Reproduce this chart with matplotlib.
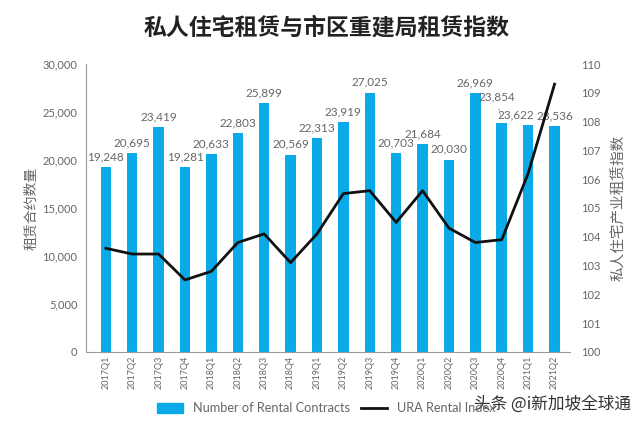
import matplotlib.pyplot as plt
from matplotlib.patches import Patch
from matplotlib.lines import Line2D

plt.rcParams['font.family'] = ['Lato', 'Noto Sans CJK SC', 'DejaVu Sans']

quarters = ['2017Q1', '2017Q2', '2017Q3', '2017Q4', '2018Q1', '2018Q2', '2018Q3', '2018Q4',
            '2019Q1', '2019Q2', '2019Q3', '2019Q4', '2020Q1', '2020Q2', '2020Q3', '2020Q4',
            '2021Q1', '2021Q2']
contracts = [19248, 20695, 23419, 19281, 20633, 22803, 25899, 20569,
             22313, 23919, 27025, 20703, 21684, 20030, 26969, 23854,
             23622, 23536]
ura_index = [103.6, 103.4, 103.4, 102.5, 102.8, 103.8, 104.1, 103.1,
             104.1, 105.5, 105.6, 104.5, 105.6, 104.3, 103.8, 103.9,
             106.2, 109.3]

bar_color = '#0AAAE8'
gray = '#666666'
cjk = ['Noto Sans CJK SC', 'DejaVu Sans']

fig = plt.figure(figsize=(6.4, 4.24), dpi=100)
ax = fig.add_axes([0.134, 0.170, 0.756, 0.679])
x = list(range(len(quarters)))
ax.bar(x, contracts, width=0.4, color=bar_color, zorder=2)
ax.set_ylim(0, 30000)
ax.set_xlim(-0.76, len(quarters) - 0.43)
ax.set_yticks(range(0, 30001, 5000))
ax.set_yticklabels([f'{v:,}' for v in range(0, 30001, 5000)])
ax.set_xticks(x)
ax.set_xticklabels(quarters, rotation=90)
ax.tick_params(axis='y', length=0, labelsize=8, colors=gray, pad=6)
ax.tick_params(axis='x', length=0, labelsize=6.5, colors=gray, pad=3)
for s in ['top', 'right']:
    ax.spines[s].set_visible(False)
for s in ['left', 'bottom']:
    ax.spines[s].set_color('#999999')
    ax.spines[s].set_linewidth(0.8)
ax.set_ylabel('租赁合约数量', family=cjk, fontsize=10, color=gray, labelpad=3)

for i, v in enumerate(contracts):
    if i == 15:
        ax.annotate(f'{v:,}', xy=(i, v + 200), xytext=(i - 0.2, v + 2100),
                    ha='center', va='bottom', fontsize=8.5, color=gray,
                    arrowprops=dict(arrowstyle='-', color='#aaaaaa', lw=0.6))
    elif i == 16:
        ax.text(i - 0.45, v + 500, f'{v:,}', ha='center', va='bottom', fontsize=8.5, color=gray, zorder=1)
    else:
        ax.text(i, v + 500, f'{v:,}', ha='center', va='bottom', fontsize=8.5, color=gray, zorder=1)

ax2 = ax.twinx()
ax2.plot(x, ura_index, color='#111111', lw=2, zorder=3)
ax2.set_ylim(100, 110)
ax2.set_yticks(range(100, 111))
ax2.tick_params(axis='y', length=0, labelsize=8, colors=gray, pad=8)
for s in ax2.spines.values():
    s.set_visible(False)
ax2.set_ylabel('私人住宅产业租赁指数', family=cjk, fontsize=10.5, color=gray, labelpad=8)

fig.suptitle('私人住宅租赁与市区重建局租赁指数', family=cjk, fontsize=16.5,
             fontweight='bold', color='#222222', x=0.51, y=0.96)

handles = [Patch(color=bar_color), Line2D([0], [0], color='#111111', lw=2)]
fig.legend(handles, ['Number of Rental Contracts', 'URA Rental Index'],
           loc='center', bbox_to_anchor=(0.51, 0.037), ncol=2, frameon=False,
           fontsize=9.2, labelcolor=gray, handlelength=2.0, handleheight=0.8,
           columnspacing=0.9)

fig.text(0.74, 0.047, '头条 @i新加坡全球通', family=cjk, fontsize=12,
         color='#333333', va='center')

fig.savefig('out.png', dpi=100)
